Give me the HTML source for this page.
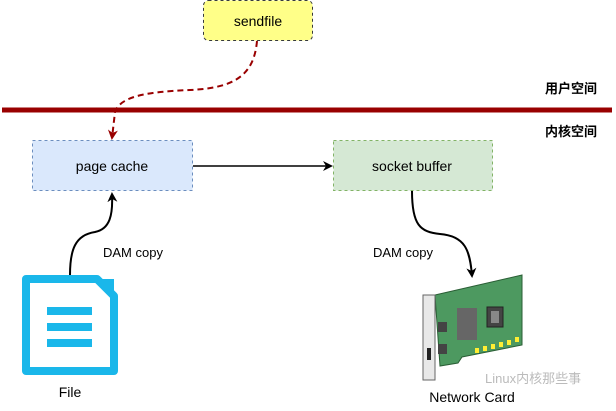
<!DOCTYPE html>
<html><head><meta charset="utf-8"><style>
body{margin:0;width:616px;height:406px;background:#fff;overflow:hidden}
</style></head><body>
<svg width="616" height="406" xmlns="http://www.w3.org/2000/svg" font-family="Liberation Sans, Noto Sans CJK SC, sans-serif">
<defs>
<marker id="ab" markerWidth="10" markerHeight="10" refX="8" refY="5" orient="auto" markerUnits="userSpaceOnUse"><path d="M0,0 L10,5 L0,10 L3,5 Z" fill="#000"/></marker>
<marker id="ar" markerWidth="10" markerHeight="10" refX="8" refY="5" orient="auto" markerUnits="userSpaceOnUse"><path d="M0,0 L10,5 L0,10 L3,5 Z" fill="#990000"/></marker>
</defs>
<rect x="203.5" y="0.5" width="109" height="40" rx="5" fill="#ffff88" stroke="#36393d" stroke-dasharray="3,3"/>
<text x="258" y="26" font-size="14" text-anchor="middle" fill="#000">sendfile</text>
<path d="M257,41 C254,75 235,88 190,90 C140,92 120,98 115,112 L112,138" fill="none" stroke="#990000" stroke-width="2" stroke-dasharray="6,4" marker-end="url(#ar)"/>
<rect x="2" y="107.5" width="610" height="5" fill="#990000"/>
<text x="597" y="93" font-size="13" font-weight="bold" text-anchor="end" font-family="Noto Sans CJK SC, sans-serif">用户空间</text>
<text x="597" y="136" font-size="13" font-weight="bold" text-anchor="end" font-family="Noto Sans CJK SC, sans-serif">内核空间</text>
<rect x="32.5" y="140.5" width="160" height="50" fill="#dae8fc" stroke="#6c8ebf" stroke-dasharray="3,3"/>
<text x="112" y="171" font-size="14" text-anchor="middle">page cache</text>
<rect x="333.5" y="140.5" width="159" height="50" fill="#d5e8d4" stroke="#82b366" stroke-dasharray="3,3"/>
<text x="412" y="171" font-size="14" text-anchor="middle">socket buffer</text>
<line x1="193" y1="166" x2="331" y2="166" stroke="#000" stroke-width="1.5" marker-end="url(#ab)"/>
<path d="M70,275 C70,250 75,235 95,232 C110,229 113,215 112,194" fill="none" stroke="#000" stroke-width="2" marker-end="url(#ab)"/>
<text x="103" y="257" font-size="13">DAM copy</text>
<path d="M412,191 C412,225 420,232 440,234 C465,236 470,250 472,276" fill="none" stroke="#000" stroke-width="2" marker-end="url(#ab)"/>
<text x="373" y="257" font-size="13">DAM copy</text>
<path d="M26,279 L97,279 L114,296 L114,371 L26,371 Z" fill="none" stroke="#1ab7ea" stroke-width="8" stroke-linejoin="round"/>
<path d="M97,279 L114,279 L114,296 Z" fill="#1ab7ea"/>
<rect x="47" y="307" width="45" height="8" fill="#1ab7ea"/>
<rect x="47" y="323" width="45" height="8" fill="#1ab7ea"/>
<rect x="47" y="339" width="45" height="8" fill="#1ab7ea"/>
<text x="70" y="397" font-size="14" text-anchor="middle">File</text>
<g transform="translate(400,260)">
<path d="M35,35 L122,15 L122,85 L62,97 L58,103 L40,106 Z" fill="#4d9960" stroke="#2a5e35"/>
<rect x="23" y="35" width="12" height="85" fill="#e8e8e8" stroke="#666"/>
<rect x="27" y="88" width="4" height="12" fill="#222"/>
<rect x="57" y="48" width="20" height="32" fill="#666"/>
<rect x="87" y="47" width="16" height="20" fill="#444" stroke="#222"/>
<rect x="91" y="51" width="8" height="12" fill="#888"/>
<rect x="38" y="62" width="9" height="10" fill="#444"/>
<rect x="38" y="84" width="9" height="10" fill="#444"/>
<g fill="#ffee33"><rect x="75" y="88" width="4" height="5"/><rect x="83" y="86" width="4" height="5"/><rect x="91" y="84" width="4" height="5"/><rect x="99" y="82" width="4" height="5"/><rect x="107" y="80" width="4" height="5"/><rect x="115" y="77" width="4" height="5"/></g>
</g>
<text x="472" y="402" font-size="14" text-anchor="middle">Network Card</text>
<text x="485" y="383" font-size="13" fill="#bbb">Linux内核那些事</text>
</svg>
</body></html>
